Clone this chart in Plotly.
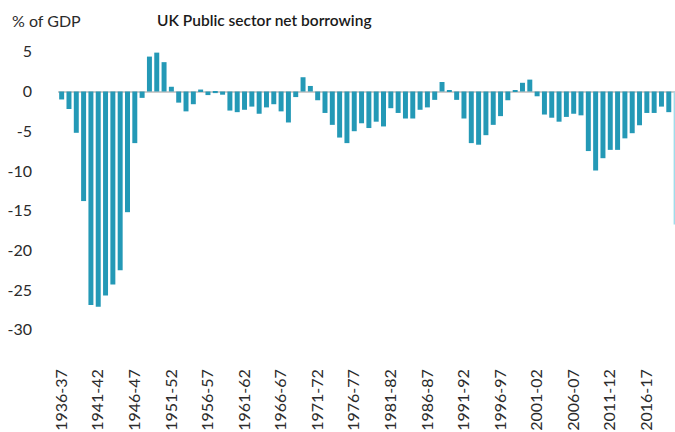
import plotly.graph_objects as go

start_years = list(range(1936, 2021))
years = [f"{y}-{str(y + 1)[-2:]}" for y in start_years]

borrowing = [
    -1.0, -2.2, -5.2, -13.8, -26.9, -27.1, -25.7, -24.3, -22.5, -15.2,
    -6.5, -0.8, 4.4, 4.9, 3.7, 0.6, -1.4, -2.5, -1.6, 0.25,
    -0.45, -0.2, -0.4, -2.4, -2.6, -2.3, -1.9, -2.8, -2.0, -1.6,
    -2.5, -3.9, -0.7, 1.8, 0.7, -1.1, -2.7, -4.2, -5.8, -6.5,
    -5.0, -4.0, -4.6, -3.8, -4.4, -2.1, -2.7, -3.4, -3.4, -2.3,
    -2.0, -1.05, 1.2, 0.15, -1.05, -3.4, -6.5, -6.7, -5.5, -4.2,
    -3.1, -1.1, 0.15, 1.1, 1.5, -0.6, -2.9, -3.3, -3.8, -3.2,
    -2.8, -3.0, -7.5, -9.95, -8.4, -7.35, -7.35, -5.9, -5.25, -4.25,
    -2.7, -2.7, -1.9, -2.6, -16.75,
]

tick_labels = years[::5]
y_ticks = [5, 0, -5, -10, -15, -20, -25, -30]
y_tick_text = [str(v) for v in y_ticks]

bar_color = "#2499b6"
last_color = "#9fdcea"
colors = [bar_color] * (len(years) - 1) + [last_color]

W, H = 675, 432
ML, MR, MT, MB = 58, 0, 40, 72

fig = go.Figure(
    go.Bar(
        x=years,
        y=borrowing,
        marker=dict(color=colors, line=dict(width=0)),
        hoverinfo="x+y",
    )
)

font_family = "Lato"
text_color = "#2b2b2b"

fig.update_layout(
    width=W,
    height=H,
    margin=dict(l=ML, r=MR, t=MT, b=MB, pad=0),
    paper_bgcolor="white",
    plot_bgcolor="white",
    bargap=0.32,
    showlegend=False,
    font=dict(family=font_family, size=16, color=text_color),
    xaxis=dict(
        type="category",
        range=[-0.5, 83.85],
        tickmode="array",
        tickvals=tick_labels,
        ticktext=tick_labels,
        tickangle=-90,
        showgrid=False,
        showline=False,
        zeroline=False,
        ticks="",
        ticklabelstandoff=5,
        tickfont=dict(size=16),
        automargin=False,
    ),
    yaxis=dict(
        range=[-33.82, 6.49],
        tickmode="array",
        tickvals=y_ticks,
        ticktext=y_tick_text,
        showgrid=False,
        zeroline=True,
        zerolinecolor="#cccccc",
        zerolinewidth=2,
        showline=False,
        ticks="",
        ticklabelstandoff=25,
        tickfont=dict(size=16),
        automargin=False,
    ),
)

plot_h = H - MT - MB


def py(pix):
    return (H - MB - pix) / plot_h


def px(pix):
    return (pix - ML) / (W - ML - MR)


fig.add_annotation(
    text="UK Public sector net borrowing",
    xref="paper", yref="paper",
    x=px(264), y=py(20), xanchor="center", yanchor="middle",
    showarrow=False,
    font=dict(family=font_family, size=15.5, color="#1a1a1a", weight=600),
)
fig.add_annotation(
    text="% of GDP",
    xref="paper", yref="paper",
    x=px(10), y=py(20), xanchor="left", yanchor="middle",
    showarrow=False,
    font=dict(family=font_family, size=16, color=text_color),
)

fig.write_html("out.html")
